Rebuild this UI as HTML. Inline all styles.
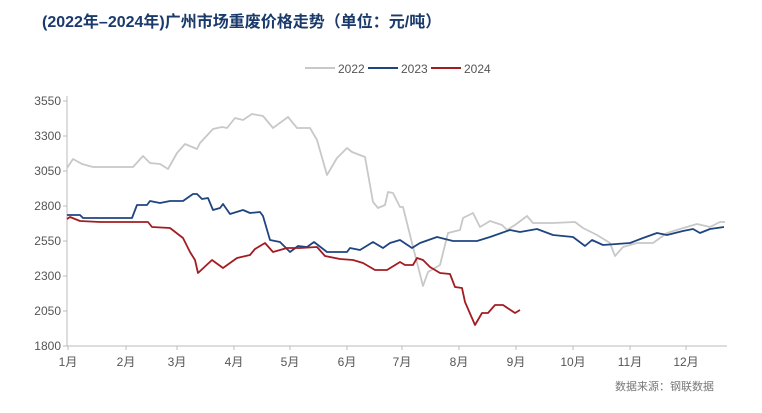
<!DOCTYPE html><html><head><meta charset="utf-8"><style>body{margin:0;background:#fff}svg text{font-family:"Liberation Sans","Noto Sans CJK SC",sans-serif}</style></head><body>
<svg width="762" height="408" viewBox="0 0 762 408" xmlns="http://www.w3.org/2000/svg">
<text x="42" y="27" font-size="16" font-weight="bold" fill="#1a3a6b">(2022年–2024年)广州市场重废价格走势（单位：元/吨）</text>
<line x1="305" y1="68" x2="335" y2="68" stroke="#c8c8c8" stroke-width="2"/><text x="338" y="73" font-size="12" fill="#555">2022</text>
<line x1="368" y1="68" x2="398" y2="68" stroke="#1f4580" stroke-width="2"/><text x="401" y="73" font-size="12" fill="#555">2023</text>
<line x1="431" y1="68" x2="461" y2="68" stroke="#a21c22" stroke-width="2"/><text x="464" y="73" font-size="12" fill="#555">2024</text>
<g stroke="#bbb" stroke-width="1"><line x1="67" y1="96" x2="67" y2="346"/><line x1="67" y1="346" x2="727" y2="346"/>
<line x1="63" y1="101" x2="67" y2="101"/><line x1="63" y1="136" x2="67" y2="136"/><line x1="63" y1="171" x2="67" y2="171"/><line x1="63" y1="206" x2="67" y2="206"/><line x1="63" y1="241" x2="67" y2="241"/><line x1="63" y1="276" x2="67" y2="276"/><line x1="63" y1="311" x2="67" y2="311"/><line x1="63" y1="346" x2="67" y2="346"/>
<line x1="68" y1="346" x2="68" y2="350"/><line x1="126" y1="346" x2="126" y2="350"/><line x1="177" y1="346" x2="177" y2="350"/><line x1="234" y1="346" x2="234" y2="350"/><line x1="290" y1="346" x2="290" y2="350"/><line x1="347" y1="346" x2="347" y2="350"/><line x1="402" y1="346" x2="402" y2="350"/><line x1="459" y1="346" x2="459" y2="350"/><line x1="516" y1="346" x2="516" y2="350"/><line x1="573" y1="346" x2="573" y2="350"/><line x1="630" y1="346" x2="630" y2="350"/><line x1="686" y1="346" x2="686" y2="350"/></g>
<g font-size="12" fill="#555" text-anchor="end"><text x="61" y="105">3550</text><text x="61" y="140">3300</text><text x="61" y="175">3050</text><text x="61" y="210">2800</text><text x="61" y="245">2550</text><text x="61" y="280">2300</text><text x="61" y="315">2050</text><text x="61" y="350">1800</text></g>
<g font-size="12" fill="#555" text-anchor="middle"><text x="68" y="366">1月</text><text x="126" y="366">2月</text><text x="177" y="366">3月</text><text x="234" y="366">4月</text><text x="290" y="366">5月</text><text x="347" y="366">6月</text><text x="402" y="366">7月</text><text x="459" y="366">8月</text><text x="516" y="366">9月</text><text x="573" y="366">10月</text><text x="630" y="366">11月</text><text x="686" y="366">12月</text></g>
<text x="714" y="390" font-size="11" fill="#777" text-anchor="end">数据来源：钢联数据</text>
<g fill="none" stroke-width="1.8" stroke-linejoin="round">
<polyline stroke="#c8c8c8" points="67,168 73,159 82,164 93,167 133,167 143,156 150,163 160,164 168,169 177,153 185,144 197,149 200,143 213,129 222,127 227,128 235,118 243,120 252,114 263,116 273,128 288,117 297,128 310,128 317,140 327,175 337,158 347,148 352,152 365,157 373,202 378,208 385,205 388,192 393,193 400,207 403,207 412,243 423,286 428,272 440,265 448,233 460,230 463,218 473,213 480,227 490,221 502,225 507,230 515,225 527,216 533,223 553,223 575,222 583,228 597,235 610,243 615,256 623,247 637,243 653,243 667,233 680,229 697,224 710,227 720,222 725,222"/>
<polyline stroke="#1f4580" points="67,215 80,215 83,218 132,218 137,205 147,205 150,201 160,203 170,201 183,201 193,194 197,194 202,199 208,198 213,210 220,208 223,204 230,214 243,210 250,213 260,212 263,216 270,240 280,242 290,252 298,246 307,247 314,242 327,252 347,252 350,248 360,250 373,242 383,248 390,243 400,240 412,248 420,243 437,237 453,241 477,241 490,237 510,230 520,232 537,229 553,235 573,237 585,246 592,240 603,245 630,243 643,238 657,233 667,235 683,231 693,229 700,233 710,229 724,227"/>
<polyline stroke="#a21c22" points="67,219 70,217 80,221 100,222 148,222 152,227 170,228 183,238 190,252 195,260 198,273 212,260 223,268 237,258 250,255 255,249 265,243 273,252 287,248 300,248 317,247 325,256 340,259 353,260 363,263 375,270 387,270 400,262 405,265 413,265 417,258 423,260 430,267 440,273 450,274 455,287 462,288 465,302 475,325 482,313 488,313 495,305 503,305 515,313 520,310"/>
</g></svg></body></html>
